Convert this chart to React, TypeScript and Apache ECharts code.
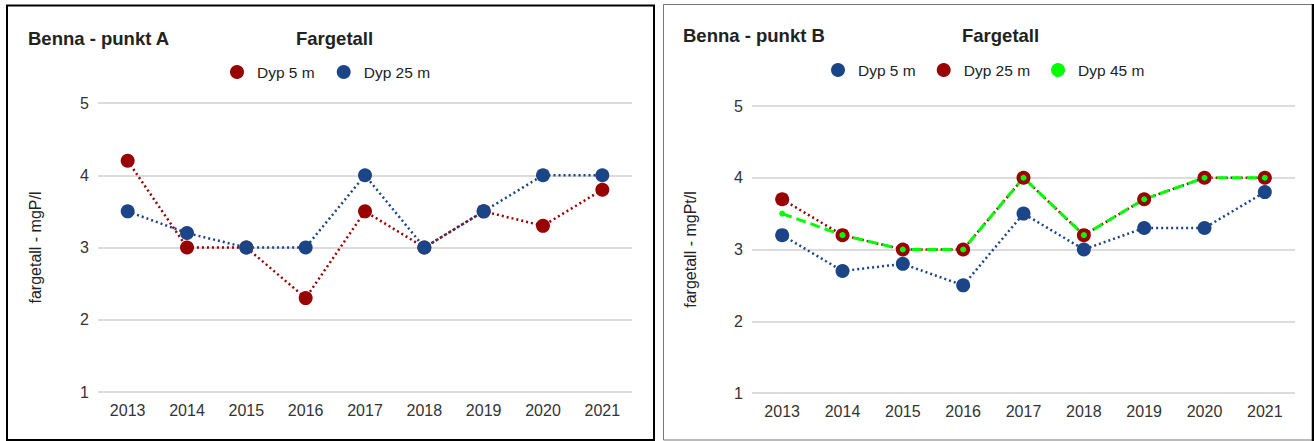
import React, { useEffect, useRef } from "react";
import * as echarts from "echarts";

const years = ["2013", "2014", "2015", "2016", "2017", "2018", "2019", "2020", "2021"];

// Benna - punkt A
const aDyp5 = [4.2, 3.0, 3.0, 2.3, 3.5, 3.0, 3.5, 3.3, 3.8];
const aDyp25 = [3.5, 3.2, 3.0, 3.0, 4.0, 3.0, 3.5, 4.0, 4.0];

// Benna - punkt B
const bDyp5 = [3.2, 2.7, 2.8, 2.5, 3.5, 3.0, 3.3, 3.3, 3.8];
const bDyp25 = [3.7, 3.2, 3.0, 3.0, 4.0, 3.2, 3.7, 4.0, 4.0];
const bDyp45 = [3.5, 3.2, 3.0, 3.0, 4.0, 3.2, 3.7, 4.0, 4.0];

const yMin = 1;
const yMax = 5;
const yStep = 1;

const FONT = "'Liberation Sans', Arial, sans-serif";
const RED = "#990000";
const BLUE = "#1c4587";
const GREEN = "#00ff00";

function baseOption(cfg: any) {
  return {
    animation: false,
    textStyle: { fontFamily: FONT },
    title: [
      {
        text: cfg.title,
        left: cfg.titleLeft,
        top: cfg.titleTop,
        padding: 0,
        textStyle: { fontFamily: FONT, fontSize: 18.5, fontWeight: "bold", color: "#222" },
      },
      {
        text: "Fargetall",
        left: cfg.subLeft,
        top: cfg.titleTop,
        padding: 0,
        textStyle: { fontFamily: FONT, fontSize: 18.5, fontWeight: "bold", color: "#222" },
      },
    ],
    legend: {
      left: cfg.legendLeft,
      top: cfg.legendTop,
      padding: 0,
      icon: "circle",
      itemWidth: 14,
      itemHeight: 14,
      itemGap: cfg.legendGap,
      textStyle: { fontFamily: FONT, fontSize: 15.5, color: "#222", padding: [0, 0, 0, 8] },
      data: cfg.legendData,
    },
    grid: cfg.grid,
    xAxis: {
      type: "category",
      data: years,
      boundaryGap: true,
      axisLine: { show: false },
      axisTick: { show: false },
      axisLabel: { fontFamily: FONT, fontSize: 16, color: "#333", margin: 10 },
    },
    yAxis: {
      type: "value",
      min: yMin,
      max: yMax,
      interval: yStep,
      name: cfg.yName,
      nameLocation: "middle",
      nameGap: cfg.nameGap,
      nameTextStyle: { fontFamily: FONT, fontSize: 16, color: "#222" },
      axisLine: { show: false },
      axisTick: { show: false },
      axisLabel: { fontFamily: FONT, fontSize: 16, color: "#333", margin: 9 },
      splitLine: { lineStyle: { color: "#d0d0d0", width: 1.5 } },
    },
    graphic: cfg.graphic,
    series: cfg.series,
  };
}

function dotted(color: string) {
  return { color, width: 2.5, type: [2, 3], cap: "butt" };
}

function optionA() {
  return baseOption({
    title: "Benna - punkt A",
    titleLeft: 28,
    titleTop: 29,
    subLeft: 296,
    legendLeft: 230,
    legendTop: 64,
    legendGap: 22,
    legendData: ["Dyp 5 m", "Dyp 25 m"],
    grid: { left: 98, right: 27, top: 103, bottom: 49 },
    yName: "fargetall - mgP/l",
    nameGap: 55,
    graphic: [
      {
        type: "rect",
        shape: { x: 7, y: 5.5, width: 647, height: 434.5 },
        style: { fill: "none", stroke: "#000", lineWidth: 2 },
        silent: true,
      },
    ],
    series: [
      {
        name: "Dyp 5 m",
        type: "line",
        data: aDyp5,
        symbol: "circle",
        symbolSize: 14,
        itemStyle: { color: RED },
        lineStyle: dotted(RED),
      },
      {
        name: "Dyp 25 m",
        type: "line",
        data: aDyp25,
        symbol: "circle",
        symbolSize: 14,
        itemStyle: { color: BLUE },
        lineStyle: dotted(BLUE),
      },
    ],
  });
}

function optionB() {
  return baseOption({
    title: "Benna - punkt B",
    titleLeft: 24,
    titleTop: 26,
    subLeft: 303,
    legendLeft: 172,
    legendTop: 62,
    legendGap: 21,
    legendData: ["Dyp 5 m", "Dyp 25 m", "Dyp 45 m"],
    grid: { left: 93, right: 19, top: 106, bottom: 48 },
    yName: "fargetall - mgPt/l",
    nameGap: 54,
    graphic: [
      {
        type: "rect",
        shape: { x: 4.5, y: 4.5, width: 649, height: 435.5 },
        style: { fill: "none", stroke: "#777", lineWidth: 1 },
        silent: true,
      },
      {
        type: "line",
        shape: { x1: 654, y1: 4, x2: 654, y2: 441 },
        style: { stroke: "#000", lineWidth: 2.5 },
        silent: true,
      },
    ],
    series: [
      {
        name: "Dyp 5 m",
        type: "line",
        data: bDyp5,
        symbol: "circle",
        symbolSize: 14,
        itemStyle: { color: BLUE },
        lineStyle: dotted(BLUE),
      },
      {
        name: "Dyp 25 m",
        type: "line",
        data: bDyp25,
        symbol: "circle",
        symbolSize: 14,
        itemStyle: { color: RED },
        lineStyle: dotted(RED),
      },
      {
        name: "Dyp 45 m",
        type: "line",
        data: bDyp45,
        symbol: "circle",
        symbolSize: 6,
        itemStyle: { color: GREEN },
        lineStyle: { color: GREEN, width: 3, type: [10, 5] },
      },
    ],
  });
}

function Chart({ option, style }: { option: any; style: React.CSSProperties }) {
  const ref = useRef<HTMLDivElement>(null);
  useEffect(() => {
    if (!ref.current) return;
    const chart = echarts.init(ref.current, null, { renderer: "svg" });
    chart.setOption(option);
    return () => chart.dispose();
  }, [option]);
  return <div ref={ref} style={style} />;
}

const optA = optionA();
const optB = optionB();

export default function App() {
  return (
    <div
      style={{
        position: "absolute",
        left: 0,
        top: 0,
        width: 1314,
        height: 441,
        background: "#fff",
        overflow: "hidden",
      }}
    >
      <Chart option={optA} style={{ position: "absolute", left: 0, top: 0, width: 659, height: 441 }} />
      <Chart option={optB} style={{ position: "absolute", left: 659, top: 0, width: 655, height: 441 }} />
    </div>
  );
}
